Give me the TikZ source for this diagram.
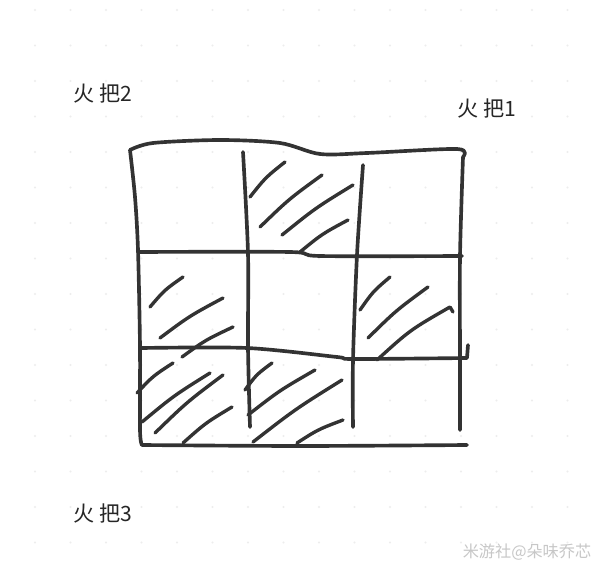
\documentclass[tikz,border=0pt]{standalone}
\usepackage{fontspec}
\newfontfamily\cjk{Noto Sans CJK SC}
\colorlet{pen}{black!80}
\colorlet{paper dot}{black!7}
\tikzset{stroke/.style={draw=pen, line width=2.6pt, line cap=round, line join=round},
    hatch/.style={stroke, line width=2.4pt},
    torch/.style={font=\cjk\fontsize{15}{15}\selectfont, text=black!85, inner sep=0pt},
    mark label/.style={font=\cjk\fontsize{11.5}{11.5}\selectfont, text=black!22, inner sep=0pt}}

\begin{document}
\begin{tikzpicture}[x=0.025cm, y=-0.025cm]
    \fill[white] (0,0) rectangle (600,577);
    \useasboundingbox (0,0) rectangle (600,577);
    % faint dotted paper
    \foreach \i in {0,...,16}
        \foreach \j in {0,...,15}
            \fill[paper dot] ({35+35.5*\i},{10+35.5*\j}) circle (1.1);
    % outer frame
    \draw[stroke] plot[smooth, tension=0.5] coordinates {(142,445) (140,430) (140,347) (138,250) (135,197) (130,150)};
    \draw[stroke] plot[smooth, tension=0.5] coordinates {(130,150) (153,143) (220,140) (280,143) (320,154) (367,153) (457,149) (463,157)};
    \draw[stroke] plot[smooth, tension=0.5] coordinates {(463,157) (460,257) (460,357) (460,430)};
    \draw[stroke] plot[smooth, tension=0.5] coordinates {(142,445) (300,446) (467,445)};
    % inner lines
    \draw[stroke] plot[smooth, tension=0.5] coordinates {(243,152) (248,253) (248,347) (250,427)};
    \draw[stroke] plot[smooth, tension=0.5] coordinates {(363,165) (357,255) (353,360) (353,427)};
    \draw[stroke] plot[smooth, tension=0.5] coordinates {(138,252) (290,252) (320,256) (462,256)};
    \draw[stroke] plot[smooth, tension=0.5] coordinates {(142,348) (247,348) (337,357) (353,359) (467,358)} -- (468,345);
    % hatched cells
    \foreach \xa/\ya/\xb/\yb in {250/197/285/162, 260/227/322/175, 282/235/353/185, 300/252/348/220,
        150/307/183/277, 160/338/223/298, 182/357/233/327,
        360/310/390/277, 368/338/428/287,
        137/393/173/363, 142/422/210/373, 155/433/223/375, 183/443/232/407,
        245/390/272/363, 248/415/315/370, 253/442/342/380, 297/443/343/420}
        \draw[hatch] (\xa,\ya) .. controls ({(\xa+\xb)/2-2},{(\ya+\yb)/2-2}) .. (\xb,\yb);
    \draw[hatch] (377,360) .. controls (410,330) .. (450,307) -- (453,312);
    % labels
    \node[torch] (torch2) at (103,93) {火\hspace{3pt}把2};
    \node[torch] (torch1) at (487,108) {火\hspace{3pt}把1};
    \node[torch] (torch3) at (103,513) {火\hspace{3pt}把3};
    \node[mark label] (credit) at (527,552) {米游社@朵味乔芯};
\end{tikzpicture}
\end{document}
